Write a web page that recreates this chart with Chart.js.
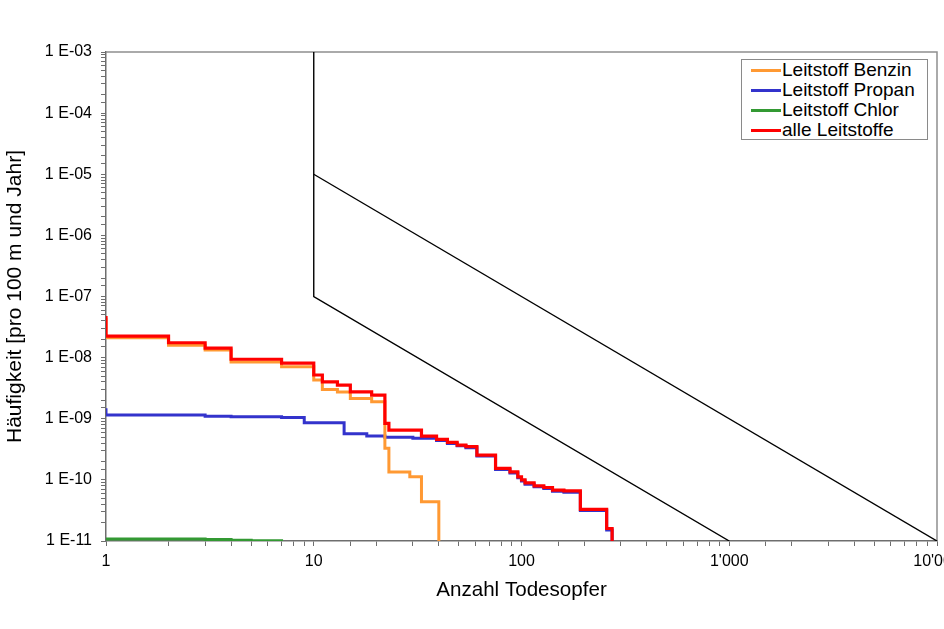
<!DOCTYPE html>
<html>
<head>
<meta charset="utf-8">
<script src="https://cdn.jsdelivr.net/npm/chart.js@4/dist/chart.umd.min.js"></script>
<style>
  html, body { margin: 0; padding: 0; background: #fff; overflow: hidden; }
  #wrap { position: relative; width: 944px; height: 629px; }
  #legend {
    position: absolute; left: 741px; top: 59px; width: 187px; height: 81px;
    border: 1px solid #8a8a8a; background: #fff;
    font-family: "Liberation Sans", Arial, sans-serif; font-size: 19px; color: #000;
    box-sizing: border-box; padding-top: 0px;
  }
  #legend .row { position: relative; height: 20px; line-height: 20px; }
  #legend .sw { position: absolute; left: 9px; top: 9px; width: 30px; height: 3px; }
  #legend .tx { position: absolute; left: 40px; top: 0; white-space: nowrap; }
</style>
</head>
<body>
<div id="wrap">
  <canvas id="c" width="944" height="629"></canvas>
  <div id="legend"></div>
</div>
<script>
// ---- data ----
const xBenzin = [1, 1, 2, 3, 4, 7, 10, 11, 13, 15, 19, 22, 23, 29, 33, 40];
const yBenzin = [4.5e-8, 2.12e-8, 1.6e-8, 1.33e-8, 8.5e-9, 7.1e-9, 4.3e-9, 3.0e-9, 2.75e-9, 2.15e-9, 1.9e-9, 3.3e-10, 1.35e-10, 1.12e-10, 4.4e-11, 1e-12];

const xPropan = [1, 1, 3, 4, 7, 9, 14, 18, 22, 30, 39, 44, 49, 54, 61, 75, 88, 96, 100, 104, 115, 128, 141, 160, 192, 257, 273];
const yPropan = [1.49e-9, 1.15e-9, 1.1e-9, 1.08e-9, 1.05e-9, 8.6e-10, 5.7e-10, 5.2e-10, 5.0e-10, 4.8e-10, 4.4e-10, 3.95e-10, 3.6e-10, 3.35e-10, 2.45e-10, 1.48e-10, 1.3e-10, 1.08e-10, 9.6e-11, 8.5e-11, 7.7e-11, 7.2e-11, 6.5e-11, 6.3e-11, 3.15e-11, 1.52e-11, 1e-12];

const xChlor = [1, 3, 4, 5, 7];
const yChlor = [1.08e-11, 1.06e-11, 1.03e-11, 1.005e-11, 1e-12];

const xAlle = [1, 1, 2, 3, 4, 7, 10, 11, 13, 15, 19, 22, 23, 33, 39, 44, 49, 54, 61, 75, 88, 96, 100, 104, 115, 128, 141, 160, 192, 257, 273];
const yAlle = [4.8e-8, 2.25e-8, 1.75e-8, 1.43e-8, 9.4e-9, 8.1e-9, 5.2e-9, 4.0e-9, 3.55e-9, 2.75e-9, 2.43e-9, 8.4e-10, 6.5e-10, 5.2e-10, 4.6e-10, 4.1e-10, 3.7e-10, 3.5e-10, 2.55e-10, 1.54e-10, 1.35e-10, 1.12e-10, 1.0e-10, 8.9e-11, 8.0e-11, 7.5e-11, 6.8e-11, 6.6e-11, 3.3e-11, 1.6e-11, 1e-12];

// criteria lines
const xGrenze1 = [10, 10, 1000];
const yGrenze1 = [1e-3, 1e-7, 1e-11];
const xGrenze2 = [10, 10000];
const yGrenze2 = [1e-5, 1e-11];

const seriesLabels = ['Leitstoff Benzin', 'Leitstoff Propan', 'Leitstoff Chlor', 'alle Leitstoffe'];
const seriesColors = ['#FF9933', '#3333CC', '#339933', '#FF0000'];

const xTitle = 'Anzahl Todesopfer';
const yTitle = 'Häufigkeit [pro 100 m und Jahr]';

// ---- build ----
const zip = (xs, ys) => xs.map((x, i) => ({ x: x, y: ys[i] }));
const FONT = '"Liberation Sans", Arial, sans-serif';

const isPow10 = v => Math.abs(Math.log10(v) - Math.round(Math.log10(v))) < 1e-6;
const fmtX = v => {
  if (!isPow10(v)) return '';
  const n = Math.round(v);
  return String(n).replace(/\B(?=(\d{3})+(?!\d))/g, "'");
};
const fmtY = v => {
  if (!isPow10(v)) return '';
  const e = Math.round(Math.log10(v));
  const a = Math.abs(e);
  return '1 E' + (e < 0 ? '-' : '+') + (a < 10 ? '0' + a : String(a));
};

const frame = {
  id: 'frame',
  beforeDatasetsDraw(chart) {
    const a = chart.chartArea, ctx = chart.ctx;
    ctx.save();
    ctx.strokeStyle = '#8f8f8f';
    ctx.lineWidth = 1.5;
    ctx.beginPath();
    ctx.moveTo(a.left, a.top);
    ctx.lineTo(a.right, a.top);
    ctx.lineTo(a.right, a.bottom);
    ctx.stroke();
    ctx.restore();
  }
};

const ds = [
  { label: seriesLabels[3], data: zip(xAlle, yAlle), borderColor: seriesColors[3], borderWidth: 3.2, stepped: 'before', order: 0 },
  { label: 'Grenze1', data: zip(xGrenze1, yGrenze1), borderColor: '#000', borderWidth: 1.4, stepped: false, order: 1 },
  { label: 'Grenze2', data: zip(xGrenze2, yGrenze2), borderColor: '#000', borderWidth: 1.4, stepped: false, order: 1 },
  { label: seriesLabels[0], data: zip(xBenzin, yBenzin), borderColor: seriesColors[0], borderWidth: 3, stepped: 'before', order: 2 },
  { label: seriesLabels[1], data: zip(xPropan, yPropan), borderColor: seriesColors[1], borderWidth: 3, stepped: 'before', order: 3 },
  { label: seriesLabels[2], data: zip(xChlor, yChlor), borderColor: seriesColors[2], borderWidth: 3, stepped: 'before', order: 4 }
];
ds.forEach(d => { d.pointRadius = 0; d.fill = false; d.tension = 0; });

new Chart(document.getElementById('c'), {
  type: 'line',
  data: { datasets: ds },
  plugins: [frame],
  options: {
    responsive: false,
    animation: false,
    devicePixelRatio: 1,
    layout: { padding: { left: 0, top: 52, right: 0, bottom: 0 } },
    plugins: { legend: { display: false }, tooltip: { enabled: false } },
    scales: {
      x: {
        type: 'logarithmic', min: 1, max: 10000,
        border: { display: true, color: '#6e6e6e', width: 1.5 },
        grid: { drawOnChartArea: false, drawTicks: true, tickLength: 5, color: '#6e6e6e', lineWidth: 1 },
        ticks: { autoSkip: false, maxRotation: 0, padding: 6, color: '#000', font: { family: FONT, size: 16 }, callback: v => fmtX(v) },
        title: { display: true, text: xTitle, color: '#000', font: { family: FONT, size: 20.6 }, padding: { top: 0, bottom: 26 } },
        afterFit: s => { s.height = 88; s.paddingRight = 7; }
      },
      y: {
        type: 'logarithmic', min: 1e-11, max: 1e-3,
        border: { display: true, color: '#6e6e6e', width: 1.5 },
        grid: { drawOnChartArea: false, drawTicks: true, tickLength: 5, color: '#6e6e6e', lineWidth: 1 },
        ticks: { autoSkip: false, padding: 9, color: '#000', font: { family: FONT, size: 16 }, callback: v => fmtY(v) },
        title: { display: true, text: yTitle, color: '#000', font: { family: FONT, size: 21 }, padding: { top: 3, bottom: 0 } },
        afterFit: s => { s.width = 106; }
      }
    }
  }
});

// HTML legend from the series arrays
const lg = document.getElementById('legend');
seriesLabels.forEach((t, i) => {
  const r = document.createElement('div'); r.className = 'row';
  const sw = document.createElement('div'); sw.className = 'sw'; sw.style.background = seriesColors[i];
  const tx = document.createElement('div'); tx.className = 'tx'; tx.textContent = t;
  r.appendChild(sw); r.appendChild(tx); lg.appendChild(r);
});
</script>
</body>
</html>
